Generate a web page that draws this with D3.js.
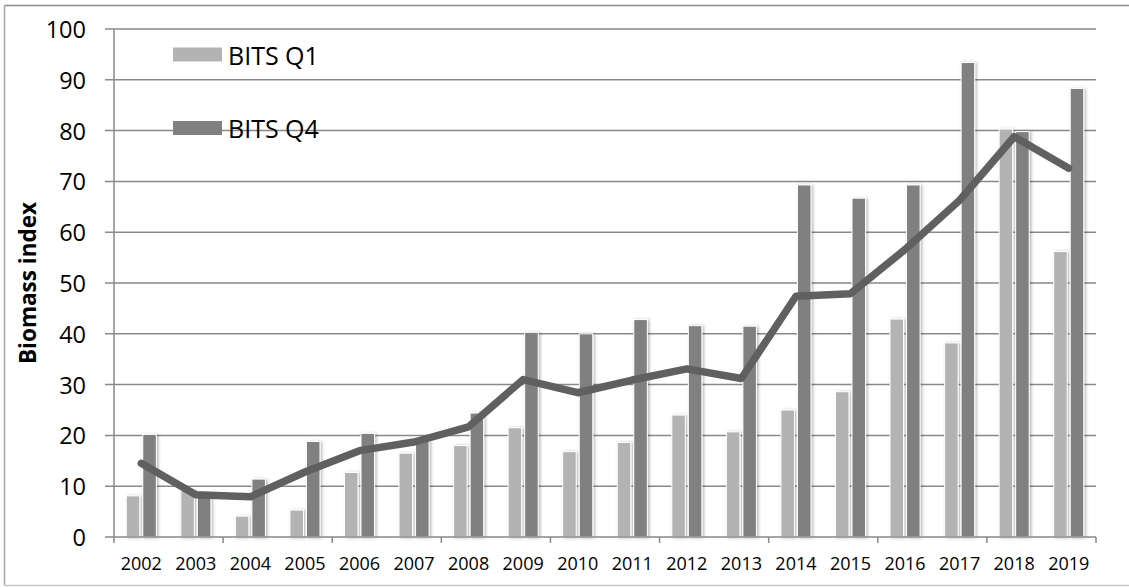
<!DOCTYPE html>
<html>
<head>
<meta charset="utf-8">
<script src="https://cdn.jsdelivr.net/npm/d3@7"></script>
<style>
  html, body { margin: 0; padding: 0; background: #fff; }
  svg { display: block; }
  text { font-family: "Open Sans", "Lato", sans-serif; fill: #000; }
</style>
</head>
<body>
<svg id="chart" width="1129" height="587"></svg>
<script>
const years = ["2002","2003","2004","2005","2006","2007","2008","2009","2010","2011","2012","2013","2014","2015","2016","2017","2018","2019"];
const bitsQ1 = [8.1, 9.2, 4.1, 5.3, 12.7, 16.5, 18.0, 21.5, 16.8, 18.6, 24.0, 20.7, 25.0, 28.6, 42.9, 38.2, 80.3, 56.2];
const bitsQ4 = [20.2, 8.0, 11.4, 18.8, 20.4, 19.0, 24.4, 40.3, 40.0, 42.8, 41.6, 41.5, 69.3, 66.7, 69.3, 93.4, 79.8, 88.3];
const lineIndex = [14.5, 8.3, 7.9, 12.8, 17.0, 18.7, 21.7, 31.0, 28.4, 30.9, 33.1, 31.2, 47.4, 47.9, 56.6, 66.3, 78.8, 72.6];
const yTicks = [0,10,20,30,40,50,60,70,80,90,100];
const seriesNames = ["BITS Q1", "BITS Q4"];
const colors = { q1: "#b3b3b3", q4: "#808080", line: "#606060", grid: "#898989" };

const svg = d3.select("#chart");
const L = 114, R = 1096, T = 29, B = 537;

const x = d3.scaleBand().domain(years).range([L, R]).padding(0);
const y = d3.scaleLinear().domain([0, 100]).range([B, T]);
const bw = x.bandwidth();
const barW = bw * 0.248;
const gap = bw * 0.055;

const defs = svg.append("defs");
const f = defs.append("filter").attr("id", "sh").attr("x", "-40%").attr("y", "-10%").attr("width", "180%").attr("height", "120%");
f.append("feDropShadow").attr("dx", 1.5).attr("dy", 0.5).attr("stdDeviation", 1.5)
  .attr("flood-color", "#000").attr("flood-opacity", 0.3);

// outer border
svg.append("line").attr("x1", 4.5).attr("x2", 1129).attr("y1", 5.5).attr("y2", 5.5).attr("stroke", "#8c8c8c").attr("stroke-width", 1.5);
svg.append("line").attr("x1", 4.5).attr("x2", 4.5).attr("y1", 5.5).attr("y2", 585.5).attr("stroke", "#a6a6a6").attr("stroke-width", 1.5);
svg.append("line").attr("x1", 4.5).attr("x2", 1129).attr("y1", 585.5).attr("y2", 585.5).attr("stroke", "#c8c8c8").attr("stroke-width", 1.5);

// gridlines
svg.append("g").selectAll("line").data(yTicks.filter(d => d > 0)).join("line")
  .attr("x1", L - 9).attr("x2", R)
  .attr("y1", d => y(d)).attr("y2", d => y(d))
  .attr("stroke", colors.grid).attr("stroke-width", 1.5);

// y tick labels
svg.append("g").selectAll("text").data(yTicks).join("text")
  .attr("x", 86).attr("y", d => y(d))
  .attr("text-anchor", "end").attr("dominant-baseline", "central")
  .attr("font-size", 23.5).text(d => d);

// bars
const bars = svg.append("g").attr("filter", "url(#sh)");
bars.selectAll("rect.q1").data(years).join("rect").attr("class", "q1")
  .attr("x", d => x(d) + bw / 2 - gap / 2 - barW)
  .attr("y", (d, i) => y(bitsQ1[i]))
  .attr("width", barW)
  .attr("height", (d, i) => y(0) - y(bitsQ1[i]))
  .attr("fill", colors.q1).attr("stroke", "#fff").attr("stroke-width", 1);
bars.selectAll("rect.q4").data(years).join("rect").attr("class", "q4")
  .attr("x", d => x(d) + bw / 2 + gap / 2)
  .attr("y", (d, i) => y(bitsQ4[i]))
  .attr("width", barW)
  .attr("height", (d, i) => y(0) - y(bitsQ4[i]))
  .attr("fill", colors.q4).attr("stroke", "#fff").attr("stroke-width", 1);

// axes
svg.append("line").attr("x1", L).attr("x2", L).attr("y1", T).attr("y2", B).attr("stroke", colors.grid).attr("stroke-width", 1.5);
svg.append("line").attr("x1", L - 9).attr("x2", R).attr("y1", B).attr("y2", B).attr("stroke", colors.grid).attr("stroke-width", 1.5);
const tickIdx = d3.range(0, years.length + 1, 2);
svg.append("g").selectAll("line").data(tickIdx).join("line")
  .attr("x1", i => L + i * bw).attr("x2", i => L + i * bw)
  .attr("y1", B).attr("y2", B + 6)
  .attr("stroke", colors.grid).attr("stroke-width", 1.5);

// x labels
svg.append("g").selectAll("text").data(years).join("text")
  .attr("x", d => x(d) + bw / 2).attr("y", 570)
  .attr("text-anchor", "middle").attr("font-size", 18).text(d => d);

// line
const lineGen = d3.line().x((d, i) => x(years[i]) + bw / 2).y(d => y(d));
svg.append("path").datum(lineIndex).attr("d", lineGen)
  .attr("fill", "none").attr("stroke", colors.line).attr("stroke-width", 7.5)
  .attr("stroke-linejoin", "round").attr("stroke-linecap", "round");

// y axis title
svg.append("text").attr("transform", "translate(36,283) rotate(-90)")
  .attr("text-anchor", "middle").attr("font-size", 22.5).attr("font-weight", "bold")
  .text("Biomass index");

// legend
const leg = svg.append("g");
const legY = [54.5, 128];
const legC = [colors.q1, colors.q4];
seriesNames.forEach((n, i) => {
  leg.append("rect").attr("x", 173).attr("y", legY[i] - 7).attr("width", 49).attr("height", 14).attr("fill", legC[i]);
  leg.append("text").attr("x", 228).attr("y", legY[i]).attr("dominant-baseline", "central")
    .attr("font-size", 25).text(n);
});
</script>
</body>
</html>
